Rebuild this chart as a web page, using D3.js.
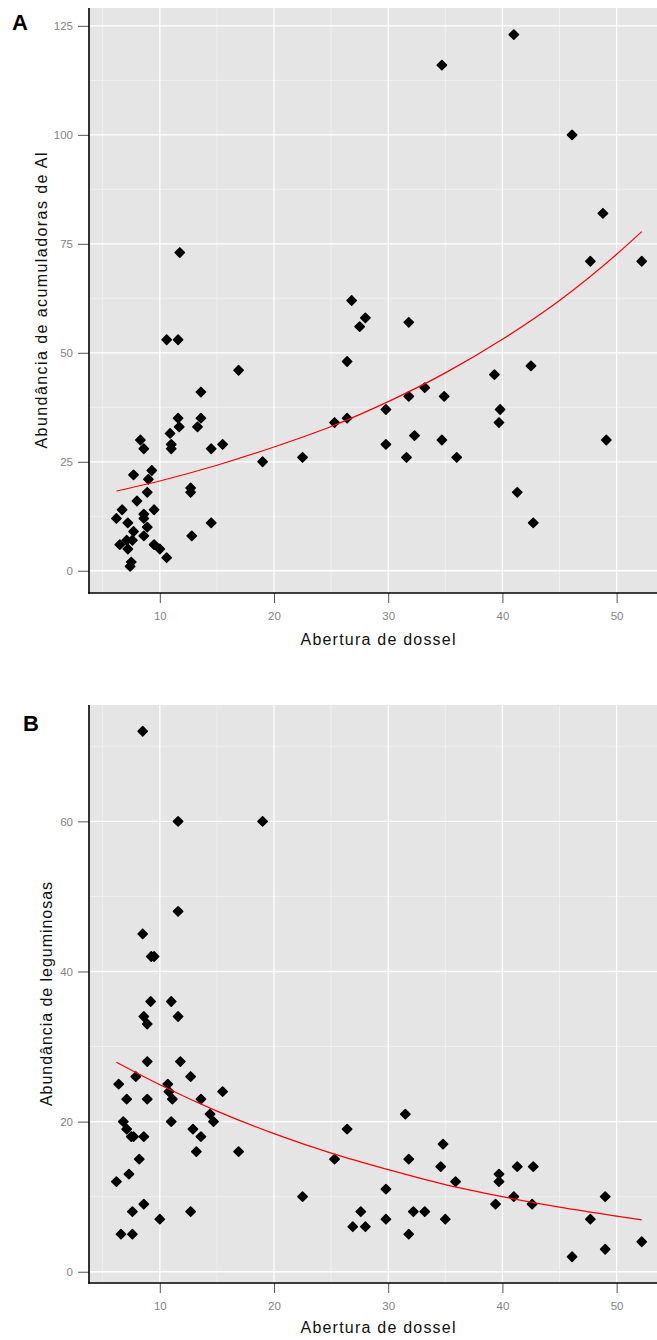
<!DOCTYPE html>
<html><head><meta charset="utf-8">
<script src="https://cdn.jsdelivr.net/npm/d3@7"></script>
<style>
html,body{margin:0;padding:0;background:#fff;}
svg{display:block;}
text{font-family:"Liberation Sans",Arial,sans-serif;}
</style></head>
<body>
<svg id="chart" width="657" height="1340"></svg>
<script>
// ---------- data ----------
const xTicks = [10, 20, 30, 40, 50];
const xMinor = [5, 15, 25, 35, 45];
const yTicksA = [0, 25, 50, 75, 100, 125];
const yMinorA = [12.5, 37.5, 62.5, 87.5, 112.5];
const yTicksB = [0, 20, 40, 60];
const yMinorB = [10, 30, 50, 70];

// Panel A: abertura de dossel vs abundância de acumuladoras de Al
const aX = [34.7,41.0,46.1,48.8,47.7,52.2,11.75,26.8,28.0,27.5,31.8,26.4,42.5,39.3,33.2,31.8,34.9,29.8,39.8,26.4,
  25.3,39.7,32.3,34.7,49.1,29.8,31.6,36.0,41.3,42.7,10.6,11.6,16.9,13.6,11.6,13.6,11.7,13.3,10.9,8.3,
  8.6,11.0,11.0,14.5,15.5,19.0,22.5,9.3,9.0,7.7,12.7,12.7,8.9,8.0,9.5,6.7,6.2,8.6,8.6,7.2,
  8.9,7.7,14.5,8.6,12.8,6.5,7.1,7.6,7.2,9.5,10.0,10.6,7.5,7.4];
const aY = [116,123,100,82,71,71,73,62,58,56,57,48,47,45,42,40,40,37,37,35,
  34,34,31,30,30,29,26,26,18,11,53,53,46,41,35,35,33,33,31.5,30,
  28,29,28,28,29,25,26,23,21,22,19,18,18,16,14,14,12,13,12,11,
  10,9,11,8,8,6,7,7,5,6,5,3,2,1];
const fitAX = [6.2,10,15,20,25,30,35,40,45,50,52.2];
const fitAY = [18.3,20.6,24.2,28.4,33.1,38.8,45.4,53.1,62.0,72.6,77.8];

// Panel B: abertura de dossel vs abundância de leguminosas
const bX = [8.5,11.6,19.0,11.6,8.5,9.25,9.5,9.2,11.0,8.6,11.6,8.9,8.9,11.8,7.9,12.7,6.4,10.7,10.8,15.5,
  7.1,8.9,11.1,13.6,14.4,14.7,6.8,11.0,7.1,12.9,7.5,7.7,8.6,13.6,13.2,16.9,8.2,7.3,6.2,22.5,
  8.6,7.6,12.7,10.0,6.6,7.6,31.5,26.4,34.8,25.3,31.8,34.6,41.3,42.7,39.7,35.9,39.7,29.8,41.0,49.0,
  39.4,42.6,27.6,32.2,33.2,26.9,28.0,29.8,35.0,47.7,31.8,52.2,49.0,46.1];
const bY = [72,60,60,48,45,42,42,36,36,34,34,33,28,28,26,26,25,25,24,24,
  23,23,23,23,21,20,20,20,19,19,18,18,18,18,16,16,15,13,12,10,
  9,8,8,7,5,5,21,19,17,15,15,14,14,14,13,12,12,11,10,10,
  9,9,8,8,8,6,6,7,7,7,5,4,3,2];
const fitBX = [6.2,10,15,20,25,30,35,40,45,50,52.2];
const fitBY = [27.9,24.9,21.4,18.4,15.8,13.6,11.6,10.0,8.6,7.4,6.9];

// ---------- drawing ----------
const svg = d3.select("#chart");
const L = 89, R = 668;
const x = d3.scaleLinear().domain([3.8, 54.5]).range([L, R]);

function panel(cfg) {
  const y = d3.scaleLinear().domain(cfg.yDomain).range([cfg.bottom, cfg.top]);
  const g = svg.append("g");
  g.append("rect").attr("x", L).attr("y", cfg.top).attr("width", R - L).attr("height", cfg.bottom - cfg.top)
    .attr("fill", "#e5e5e5");
  // minor grid
  g.selectAll(".vmin").data(xMinor).join("line")
    .attr("x1", d => x(d)).attr("x2", d => x(d)).attr("y1", cfg.top).attr("y2", cfg.bottom)
    .attr("stroke", "#f2f2f2").attr("stroke-width", 0.8);
  g.selectAll(".hmin").data(cfg.yMinor).join("line")
    .attr("x1", L).attr("x2", R).attr("y1", d => y(d)).attr("y2", d => y(d))
    .attr("stroke", "#f2f2f2").attr("stroke-width", 0.8);
  // major grid
  g.selectAll(".vmaj").data(xTicks).join("line")
    .attr("x1", d => x(d)).attr("x2", d => x(d)).attr("y1", cfg.top).attr("y2", cfg.bottom)
    .attr("stroke", "#ffffff").attr("stroke-width", 1.3);
  g.selectAll(".hmaj").data(cfg.yTicks).join("line")
    .attr("x1", L).attr("x2", R).attr("y1", d => y(d)).attr("y2", d => y(d))
    .attr("stroke", "#ffffff").attr("stroke-width", 1.3);

  // points
  const pts = cfg.xs.map((v, i) => [v, cfg.ys[i]]);
  g.selectAll(".pt").data(pts).join("path")
    .attr("d", "M0,-4.6L4.6,0L0,4.6L-4.6,0Z")
    .attr("transform", d => `translate(${x(d[0])},${y(d[1])})`)
    .attr("fill", "#000").attr("stroke", "#000").attr("stroke-width", 1.6).attr("stroke-linejoin", "round");

  // fitted line
  const line = d3.line().x(d => x(d[0])).y(d => y(d[1])).curve(d3.curveMonotoneX);
  g.append("path").datum(cfg.fx.map((v, i) => [v, cfg.fy[i]]))
    .attr("d", line).attr("fill", "none").attr("stroke", "#ff0000").attr("stroke-width", 1.2);

  // axes
  const ax = g.append("g").attr("transform", `translate(0,${cfg.bottom})`)
    .call(d3.axisBottom(x).tickValues(xTicks).tickSize(10).tickPadding(9).tickSizeOuter(0));
  const ay = g.append("g").attr("transform", `translate(${L},0)`)
    .call(d3.axisLeft(y).tickValues(cfg.yTicks).tickSize(11).tickPadding(5).tickSizeOuter(0));
  [ax, ay].forEach(a => {
    a.select(".domain").remove();
    a.selectAll(".tick line").attr("stroke", "#555").attr("stroke-width", 1);
    a.selectAll(".tick text").attr("fill", "#858585").attr("font-size", 11.5)
      .attr("font-family", "Liberation Sans, Arial, sans-serif");
  });
  // axis lines
  g.append("line").attr("x1", L).attr("x2", L).attr("y1", cfg.top).attr("y2", cfg.bottom + 0.7)
    .attr("stroke", "#000").attr("stroke-width", 1.6);
  g.append("line").attr("x1", L - 0.8).attr("x2", R).attr("y1", cfg.bottom).attr("y2", cfg.bottom)
    .attr("stroke", "#000").attr("stroke-width", 1.6);

  // titles
  g.append("text").attr("x", 378).attr("y", cfg.xTitleY).attr("text-anchor", "middle")
    .attr("font-size", 16).attr("fill", "#111")
    .attr("textLength", 155).attr("lengthAdjust", "spacing")
    .text("Abertura de dossel");
  const cy = (cfg.top + cfg.bottom) / 2;
  g.append("text").attr("transform", `translate(${cfg.yTitleX},${cy}) rotate(-90)`)
    .attr("text-anchor", "middle").attr("font-size", 16).attr("fill", "#111")
    .attr("textLength", cfg.yTitleLen).attr("lengthAdjust", "spacing")
    .text(cfg.yTitle);
  g.append("text").attr("x", cfg.letterX).attr("y", cfg.letterY)
    .attr("font-size", 22).attr("font-weight", "bold").attr("fill", "#000").text(cfg.letter);
}

panel({
  top: 8, bottom: 593, yDomain: [-5.1, 129.1], yTicks: yTicksA, yMinor: yMinorA,
  xs: aX, ys: aY, fx: fitAX, fy: fitAY,
  xTitleY: 645, yTitleX: 47, yTitleLen: 296, yTitle: "Abundância de acumuladoras de Al",
  letter: "A", letterX: 12, letterY: 30
});
panel({
  top: 705, bottom: 1283, yDomain: [-1.5, 75.5], yTicks: yTicksB, yMinor: yMinorB,
  xs: bX, ys: bY, fx: fitBX, fy: fitBY,
  xTitleY: 1333, yTitleX: 52, yTitleLen: 224, yTitle: "Abundância de leguminosas",
  letter: "B", letterX: 23, letterY: 731
});
</script>
</body></html>
